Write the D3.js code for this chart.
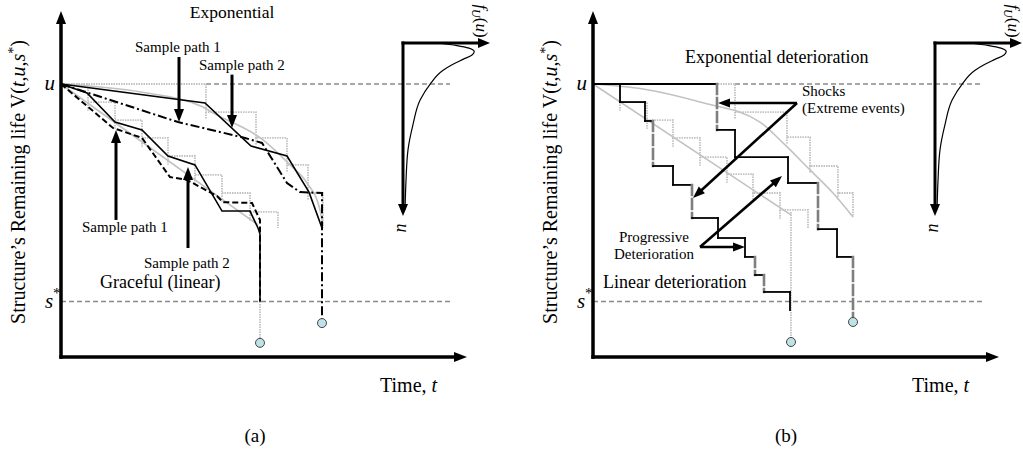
<!DOCTYPE html>
<html>
<head>
<meta charset="utf-8">
<script src="https://cdn.jsdelivr.net/npm/d3@7"></script>
<style>
body { margin: 0; background: #fff; }
text { font-family: "Liberation Serif", "Times New Roman", serif; fill: #000; }
</style>
</head>
<body>
<svg id="chart"></svg>
<script>
const W = 1023, H = 456;

// time t (x) and remaining life v (y): u = 100, s* = 0
const uLevel = 100, sLevel = 0;

// ---- panel (a) ----
const expMeanA = [[0,100],[20,96.3],[35.5,89.4],[38,86.7],[50.5,74.3],[57.25,62.8],[61.5,54.5],[64.75,42.1],[65.5,35.2]];
const linMeanA = [[0,100],[49.25,35.2]];
const expStepsA = [[0,100],[36.25,87.1],[48.75,75.2],[56.5,62.8],[61.75,49.9],[65.5,33.8]];
const linStepsA = [[0,100],[6.75,91.7],[13.5,83.4],[20.25,75.2],[26.75,66.9],[33.5,58.2],[40.25,49.9],[47.25,41.2],[54.25,33.8]];
const expPath1A = [[0,100],[29.25,82.5],[46,75.2],[50.25,72.9],[56.5,54.5],[59.75,50.3],[65.25,49.9],[65.25,-9.9]];
const expPath2A = [[0,100],[36,91.3],[47.5,71.5],[56.5,66.9],[62,50.3],[65.25,33.8]];
const linPath1A = [[0,100],[13,79.8],[20.25,75.2],[27.25,57.2],[31.5,55.9],[39,48.5],[40.5,45.7],[47.75,45.3],[49.75,37.5],[49.75,0]];
const linPath2A = [[0,100],[6.5,95.9],[13.5,82.5],[20.25,78.9],[26.75,66.9],[33.5,62.8],[40.25,41.6],[47.25,41.6],[49.25,33.8],[49.75,31],[49.75,0]];
const failA = [[49.75,-19],[65.25,-9.9]];
const arrowsA = [[[29.5,112.4],[29.5,82.5]],[[42.75,104.3],[42.75,79.8]],[[13.75,37.5],[13.75,78.9]],[[31.75,24.6],[31.75,61.8]]];

// ---- panel (b) ----
const expMeanB = [[0,100],[12.5,97.7],[26.75,91.7],[41.75,82.5],[47.5,72.9],[54.25,60.5],[60,49.9],[65,38.9]];
const linMeanB = [[0,100],[49.5,39.8]];
const expStepsB = [[0,100],[35.5,87.1],[48.5,75.6],[54.25,62.3],[61.25,49.9],[65,38.9]];
const linStepsB = [[0,100],[6.75,91.7],[13.5,83.4],[20,75.2],[26.75,66.4],[33.5,58.6],[40,49.9],[46.75,42.1],[53.75,33.8]];
const expPathB = [[0,100],[31,100],[31,78.9],[35.5,78.9],[35.5,66.4],[48.75,66.4],[48.75,54.5],[56.25,54.5],[56.25,33.3],[61,33.3],[61,20.5],[65,20.5],[65,-9.4]];
const expShocksB = [1,7,11];
const linPathB = [[0,100],[6.75,100],[6.75,91.7],[13,91.7],[13,83],[15,83],[15,62.3],[20,62.3],[20,53.6],[24.75,53.6],[24.75,38.4],[31.25,38.4],[31.25,29.2],[38,29.2],[38,20.5],[40.5,20.5],[40.5,12.2],[42.75,12.2],[42.75,4.4],[49.25,4.4],[49.25,-3.9]];
const linShocksB = [5,9,15,17];
const failB = [[49.5,-18.6],[65,-9.4]];
const arrowsB = [[[51,91.3],[31.25,91.3]],[[51,91.3],[25,47.6]],[[26.75,25.1],[38,25.1]],[[26.75,25.1],[47.25,57.7]]];

// inset density of u (u down, f to the right)
const pdfU = [0,0.15,0.3,0.5,0.7,0.95,1.25,1.6,2.4,3.3,4.8,6.2,8,9.7];
const pdfF = [0.45,0.72,0.88,0.95,0.92,0.8,0.66,0.53,0.36,0.23,0.13,0.067,0.04,0.027];

const svg = d3.select("#chart").attr("width", W).attr("height", H);
svg.append("rect").attr("width", W).attr("height", H).attr("fill", "#fff");

const GRAY = "#c2c2c2", REF = "#8a8a8a";

function arrow(g, p1, p2, lw, hl, hw) {
  const dx = p2[0] - p1[0], dy = p2[1] - p1[1], len = Math.hypot(dx, dy);
  const ux = dx / len, uy = dy / len;
  const bx = p2[0] - ux * hl, by = p2[1] - uy * hl;
  g.append("line").attr("x1", p1[0]).attr("y1", p1[1]).attr("x2", bx + ux).attr("y2", by + uy)
    .attr("stroke", "#000").attr("stroke-width", lw);
  g.append("path")
    .attr("d", `M${p2[0]},${p2[1]}L${bx - uy * hw / 2},${by + ux * hw / 2}L${bx + uy * hw / 2},${by - ux * hw / 2}Z`)
    .attr("fill", "#000");
}

function panel(x0) {
  const x = d3.scaleLinear().domain([0, 101.5]).range([x0, x0 + 406]);
  const y = d3.scaleLinear().domain([-25.5, 100]).range([357, 84]);
  const line = d3.line().x(d => x(d[0])).y(d => y(d[1]));
  const g = svg.append("g");

  function steps(data, over) {
    const pts = [data[0]];
    for (let k = 1; k < data.length; k++) {
      pts.push([data[k][0], data[k - 1][1]]);
      pts.push(data[k]);
    }
    g.append("path").attr("d", line(pts)).attr("fill", "none")
      .attr("stroke", GRAY).attr("stroke-width", 1.8).attr("stroke-dasharray", "1.5,1");
    for (let k = 1; k < data.length - 1; k++) {
      g.append("path").attr("d", line([data[k], [data[k][0], data[k][1] - over]]))
        .attr("stroke", GRAY).attr("stroke-width", 1.8).attr("stroke-dasharray", "1.5,1");
    }
  }
  function mean(data) {
    g.append("path").attr("d", line.curve(d3.curveMonotoneX)(data)).attr("fill", "none")
      .attr("stroke", GRAY).attr("stroke-width", 1.6);
    line.curve(d3.curveLinear);
  }
  function path(data, dash, w) {
    g.append("path").attr("d", line(data)).attr("fill", "none").attr("stroke", "#000")
      .attr("stroke-width", w || 1.7).attr("stroke-dasharray", dash || null);
  }
  function refLine(v, t0) {
    g.append("line").attr("x1", x(t0)).attr("x2", x(97.25)).attr("y1", y(v)).attr("y2", y(v))
      .attr("stroke", REF).attr("stroke-width", 1.6).attr("stroke-dasharray", "5,3");
  }
  function circles(data) {
    g.selectAll(null).data(data).enter().append("circle")
      .attr("cx", d => x(d[0])).attr("cy", d => y(d[1])).attr("r", 4.5)
      .attr("fill", "#bfe2e8").attr("stroke", "#444").attr("stroke-width", 1);
  }
  function axes() {
    arrow(g, [x(0), y(-25.5) + 1.7], [x(0), 11], 3.5, 13, 10);
    arrow(g, [x(0) - 1.7, y(-25.5)], [x(101.5), y(-25.5)], 3.5, 13, 10);
    // remaining-life axis label
    const yl = g.append("text").attr("transform", `translate(${x0 - 43},182) rotate(-90)`)
      .attr("text-anchor", "middle").attr("dy", "0.35em").style("font-size", "20px");
    yl.append("tspan").text("Structure\u2019s Remaining life V(");
    yl.append("tspan").style("font-style", "italic").text("t");
    yl.append("tspan").text(",");
    yl.append("tspan").style("font-style", "italic").text("u");
    yl.append("tspan").text(",");
    yl.append("tspan").style("font-style", "italic").text("s");
    yl.append("tspan").attr("dy", -7).style("font-size", "14px").text("*");
    yl.append("tspan").attr("dy", 7).text(")");
    g.append("text").attr("x", x0 - 6).attr("y", y(uLevel) + 6).attr("text-anchor", "end")
      .style("font-size", "21px").style("font-style", "italic").text("u");
    g.append("text").attr("x", x0 - 16).attr("y", y(sLevel) + 6).style("font-size", "21px")
      .style("font-style", "italic").text("s");
    g.append("text").attr("x", x0 - 8).attr("y", y(sLevel) - 4).style("font-size", "15px").text("*");
    const tl = g.append("text").attr("x", x0 + 319).attr("y", 392).style("font-size", "20px");
    tl.append("tspan").text("Time, ");
    tl.append("tspan").style("font-style", "italic").text("t");
  }
  function inset() {
    const ix = x0 + 342;
    const iu = d3.scaleLinear().domain([0, 10]).range([43, 215]);
    const iff = d3.scaleLinear().domain([0, 1]).range([ix, ix + 75]);
    const pts = pdfU.map((u, i) => [iff(pdfF[i]), iu(u)]);
    g.append("path").attr("d", d3.line().curve(d3.curveMonotoneY)(pts)).attr("fill", "none")
      .attr("stroke", "#000").attr("stroke-width", 1.2);
    arrow(g, [ix, 43 - 1.5], [ix, 216], 3, 12, 10);
    arrow(g, [ix - 1.5, 43], [ix + 87, 43], 3, 12, 10);
    const fl = g.append("text").attr("transform", `translate(${ix + 79},21) rotate(90)`)
      .attr("text-anchor", "middle").attr("dy", "0.35em").style("font-size", "17px");
    fl.append("tspan").style("font-style", "italic").text("f");
    fl.append("tspan").attr("dy", 4).style("font-size", "12px").style("font-style", "italic").text("U");
    fl.append("tspan").attr("dy", -4).text("(");
    fl.append("tspan").style("font-style", "italic").text("u");
    fl.append("tspan").text(")");
    g.append("text").attr("transform", `translate(${ix},228) rotate(90)`)
      .attr("text-anchor", "middle").attr("dy", "0.35em").style("font-size", "18px")
      .style("font-style", "italic").text("u");
  }
  function label(t, dx, yy, size, anchor) {
    g.append("text").attr("x", x0 + dx).attr("y", yy).attr("text-anchor", anchor || "start")
      .style("font-size", size + "px").text(t);
  }
  function seg(data, shocks) {
    for (let k = 0; k < data.length - 1; k++) {
      const s = shocks.includes(k);
      g.append("path").attr("d", line([data[k], data[k + 1]]))
        .attr("stroke", s ? "#7f7f7f" : "#000").attr("stroke-width", s ? 2.6 : 1.8)
        .attr("stroke-dasharray", s ? "10,4" : null).attr("stroke-linecap", "square");
    }
  }
  return { x, y, g, steps, mean, path, refLine, circles, axes, inset, label, seg, line };
}

// ----- (a) -----
const A = panel(61);
A.refLine(uLevel, 36.25);
A.refLine(sLevel, 0);
A.steps(expStepsA, 3);
A.steps(linStepsA, 4);
A.mean(expMeanA);
A.mean(linMeanA);
A.g.append("path").attr("d", A.line([[49.75, 0], failA[0]])).attr("stroke", GRAY)
  .attr("stroke-width", 1.8).attr("stroke-dasharray", "1.5,1");
A.path(expPath2A, null, 1.6);
A.path(expPath1A, "9,3,2,3", 2);
A.path(linPath2A, null, 1.6);
A.path(linPath1A, "6,3", 2);
A.circles(failA);
A.axes();
A.inset();
arrowsA.forEach(a => arrow(A.g, [A.x(a[0][0]), A.y(a[0][1])], [A.x(a[1][0]), A.y(a[1][1])], 3, 13, 10));
A.label("Exponential", 171, 18, 17.5, "middle");
A.label("Sample path 1", 74, 52, 15);
A.label("Sample path 2", 138, 70, 15);
A.label("Sample path 1", 21, 232, 15);
A.label("Sample path 2", 83, 268, 15);
A.label("Graceful (linear)", 39, 288, 18);
A.label("(a)", 194, 442, 19, "middle");

// ----- (b) -----
const B = panel(593);
B.refLine(uLevel, 35.5);
B.refLine(sLevel, 0);
B.steps(expStepsB, 3);
B.steps(linStepsB, 4);
B.mean(expMeanB);
B.mean(linMeanB);
B.g.append("path").attr("d", B.line([[49.5, 41.2], failB[0]])).attr("stroke", GRAY)
  .attr("stroke-width", 1.8).attr("stroke-dasharray", "1.5,1");
B.seg(expPathB, expShocksB);
B.seg(linPathB, linShocksB);
B.circles(failB);
B.axes();
B.inset();
arrowsB.forEach(a => arrow(B.g, [B.x(a[0][0]), B.y(a[0][1])], [B.x(a[1][0]), B.y(a[1][1])], 2.6, 12, 9));
B.label("Exponential deterioration", 92, 63, 18);
B.label("Shocks", 209, 96, 15);
B.label("(Extreme events)", 209, 113, 15);
B.label("Progressive", 61, 242, 15, "middle");
B.label("Deterioration", 61, 259, 15, "middle");
B.label("Linear deterioration", 10, 288, 18);
B.label("(b)", 193, 442, 19, "middle");
</script>
</body>
</html>
